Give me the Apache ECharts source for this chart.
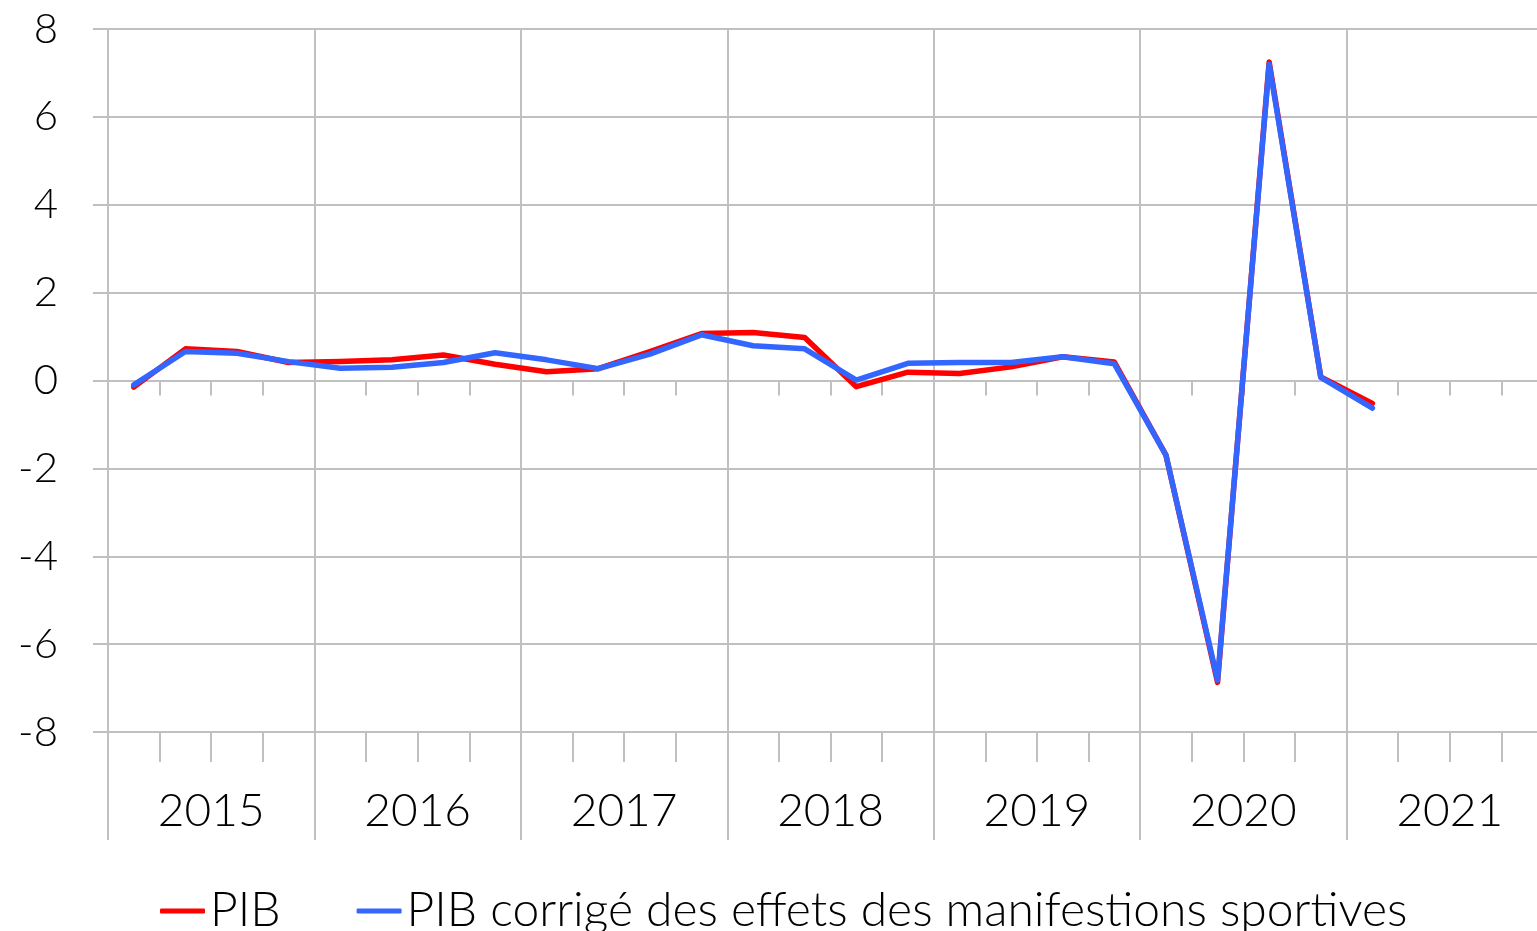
<!DOCTYPE html>
<html>
<head>
<meta charset="utf-8">
<script src="https://cdn.jsdelivr.net/npm/echarts@6/dist/echarts.min.js"></script>
<style>
  html, body { margin: 0; padding: 0; background: #fff; }
  #chart { width: 1537px; height: 931px; }
</style>
</head>
<body>
<div id="chart"></div>
<script>
// quarters 2015T1 .. 2021T4, values are quarterly growth in %
const years = ['2015', '2016', '2017', '2018', '2019', '2020', '2021'];
const quarters = [];
years.forEach(y => ['T1', 'T2', 'T3', 'T4'].forEach(q => quarters.push(y + q)));

const pib = [-0.15, 0.72, 0.66, 0.41, 0.43, 0.47, 0.58, 0.37, 0.2, 0.27, 0.66, 1.07, 1.09,
  0.98, -0.14, 0.19, 0.16, 0.31, 0.54, 0.42, -1.7, -6.87, 7.25, 0.08, -0.52];
const pibCorrige = [-0.1, 0.66, 0.62, 0.43, 0.28, 0.3, 0.41, 0.63, 0.47, 0.27, 0.6, 1.04, 0.79,
  0.72, 0.01, 0.39, 0.41, 0.41, 0.54, 0.38, -1.7, -6.82, 7.2, 0.07, -0.63];

const yTicks = { min: -8, max: 8, step: 2 };

const FONT = 'Lato';
const GREY = '#c0c0c0';

const chart = echarts.init(document.getElementById('chart'));

let option = {
  animation: false,
  color: ['#ff0000', '#3366ff'],
  textStyle: { fontFamily: FONT },
  legend: {
    left: 155,
    top: 882,
    icon: 'roundRect',
    itemWidth: 45,
    itemHeight: 5,
    itemGap: 76,
    textStyle: { fontFamily: FONT, fontWeight: 300, fontSize: 48, color: '#000' },
    data: ['PIB', 'PIB corrigé des effets des manifestions sportives']
  },
  grid: {
    left: 108,
    right: -16,
    top: 29,
    bottom: 199,
    containLabel: false,
    outerBoundsMode: 'none'
  },
  xAxis: [
    {
      // quarter ticks on the zero line
      type: 'category',
      data: quarters,
      boundaryGap: true,
      axisLine: { onZero: true, lineStyle: { color: GREY, width: 2 } },
      axisTick: { show: true, interval: 0, length: 15, lineStyle: { color: GREY, width: 2 } },
      axisLabel: { show: false },
      splitLine: { show: false }
    },
    {
      // quarter ticks along the bottom
      type: 'category',
      data: quarters,
      position: 'bottom',
      boundaryGap: true,
      axisLine: { onZero: false, lineStyle: { color: GREY, width: 2 } },
      axisTick: { show: true, interval: 0, length: 30, lineStyle: { color: GREY, width: 2 } },
      axisLabel: { show: false },
      splitLine: { show: false }
    },
    {
      // years
      type: 'category',
      data: years,
      position: 'bottom',
      boundaryGap: true,
      axisLine: { show: false, onZero: false },
      axisTick: { show: true, interval: 0, length: 108, lineStyle: { color: GREY, width: 2 } },
      axisLabel: { interval: 0, margin: 56, fontSize: 46, fontWeight: 300, color: '#000', fontFamily: FONT },
      splitLine: { show: true, interval: 0, lineStyle: { color: GREY, width: 2 } }
    }
  ],
  yAxis: {
    type: 'value',
    min: yTicks.min,
    max: yTicks.max,
    interval: yTicks.step,
    axisLine: { show: true, lineStyle: { color: GREY, width: 2 } },
    axisTick: { show: true, length: 15, lineStyle: { color: GREY, width: 2 } },
    axisLabel: { margin: 50, fontSize: 42, fontWeight: 300, color: '#000', fontFamily: FONT },
    splitLine: { show: true, lineStyle: { color: GREY, width: 2 } }
  },
  series: [
    {
      name: 'PIB',
      type: 'line',
      xAxisIndex: 1,
      data: pib,
      symbol: 'none',
      lineStyle: { width: 5.5, color: '#ff0000', join: 'round', cap: 'round' }
    },
    {
      name: 'PIB corrigé des effets des manifestions sportives',
      type: 'line',
      xAxisIndex: 1,
      data: pibCorrige,
      symbol: 'none',
      lineStyle: { width: 5.5, color: '#3366ff', join: 'round', cap: 'round' }
    }
  ]
};

chart.setOption(option);
</script>
</body>
</html>
